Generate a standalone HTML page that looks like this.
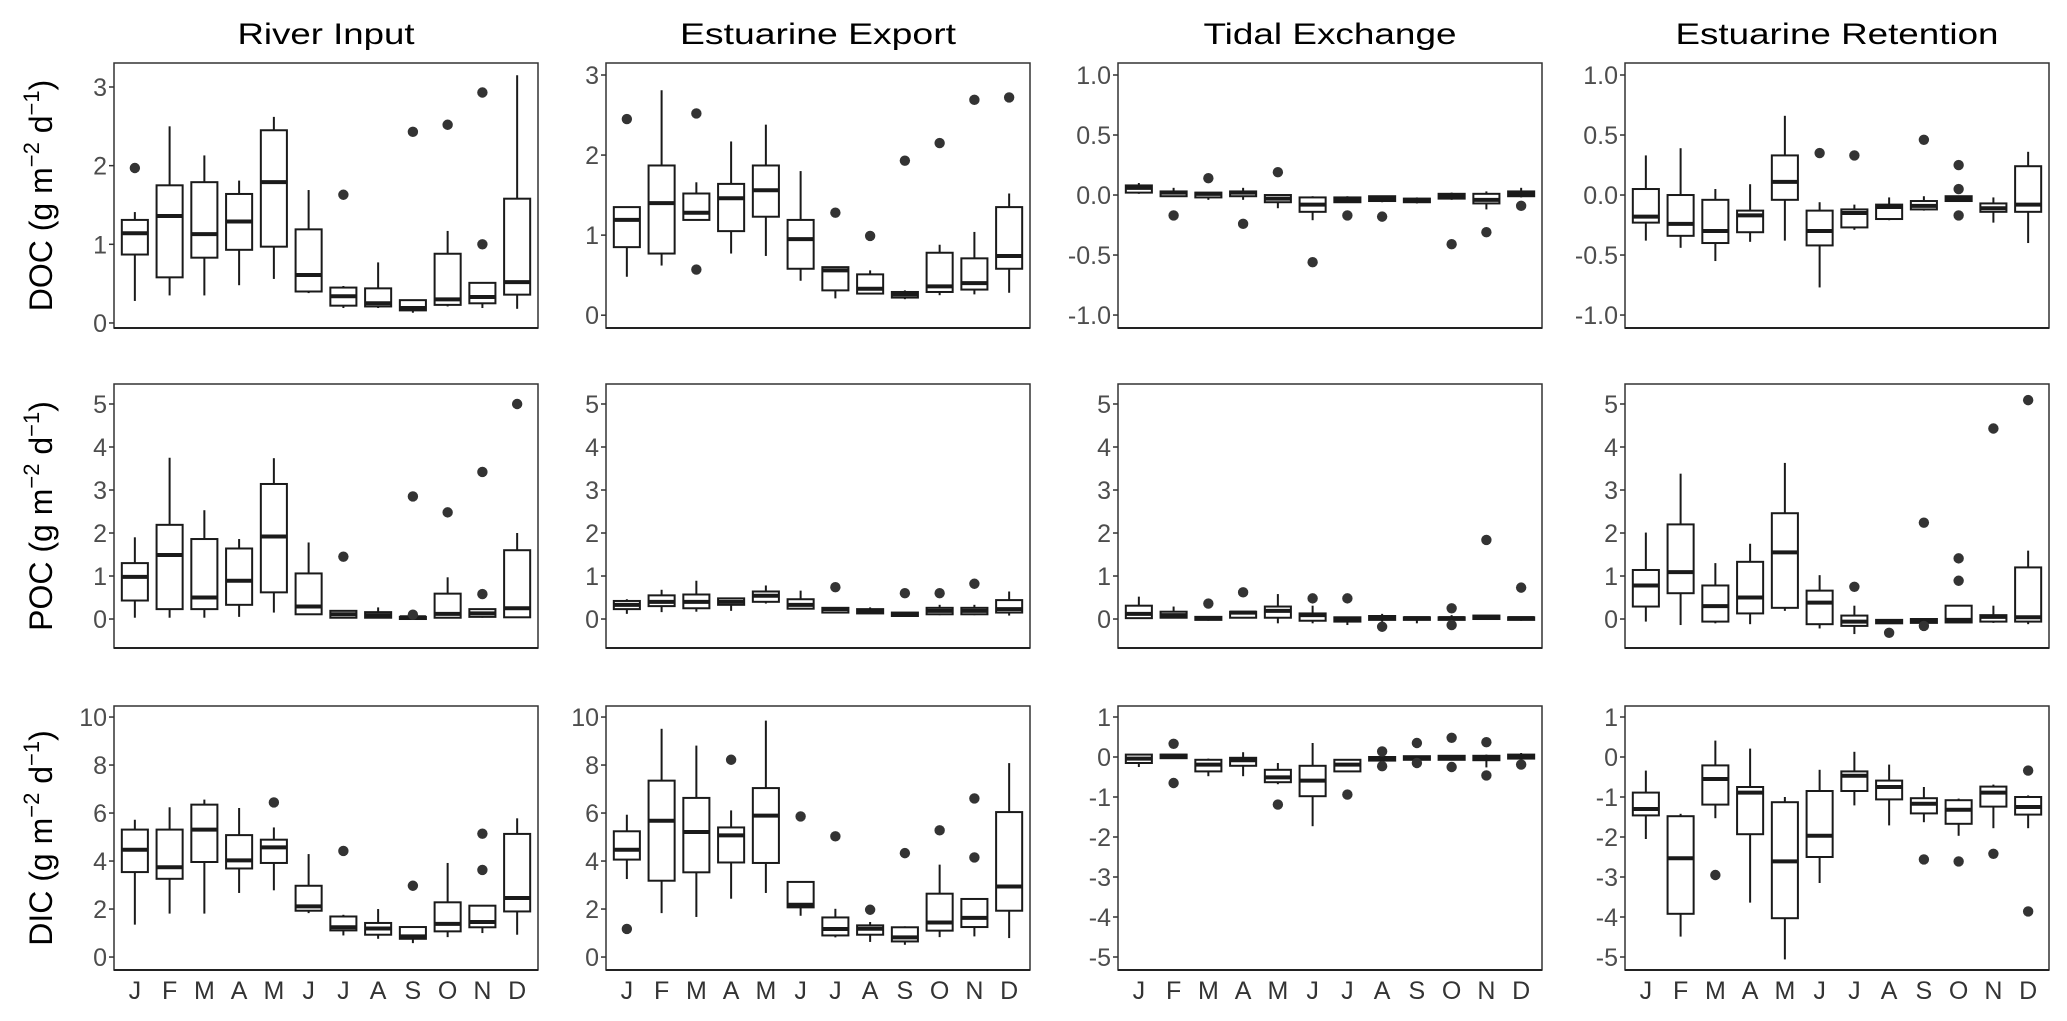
<!DOCTYPE html>
<html><head><meta charset="utf-8">
<style>
html,body{margin:0;padding:0;background:#fff;}
svg{display:block;font-family:"Liberation Sans",Arial,sans-serif;}
</style></head>
<body>
<svg id="chart" width="2067" height="1021" viewBox="0 0 2067 1021" xmlns="http://www.w3.org/2000/svg"></svg>
<script>
const months = ["J","F","M","A","M","J","J","A","S","O","N","D"];
const colTitles = ["River Input","Estuarine Export","Tidal Exchange","Estuarine Retention"];
const rowTitles = ["DOC","POC","DIC"];

// ---- DOC River Input ----
const docRiverLo  = [0.28,0.35,0.35,0.48,0.56,0.38,0.19,0.19,0.13,0.21,0.19,0.18];
const docRiverQ1  = [0.87,0.58,0.83,0.93,0.97,0.40,0.22,0.21,0.16,0.23,0.25,0.36];
const docRiverMed = [1.14,1.36,1.13,1.29,1.79,0.61,0.34,0.25,0.19,0.30,0.33,0.52];
const docRiverQ3  = [1.31,1.75,1.79,1.64,2.45,1.19,0.45,0.44,0.29,0.88,0.51,1.58];
const docRiverHi  = [1.41,2.50,2.13,1.81,2.62,1.69,0.47,0.77,0.29,1.17,0.51,3.15];
const docRiverOut = [[0,1.97],[6,1.63],[8,2.43],[9,2.52],[10,2.93],[10,1.0]];
// ---- DOC Estuarine Export ----
const docExportLo  = [0.48,0.62,1.19,0.77,0.74,0.43,0.21,0.27,0.20,0.25,0.26,0.28];
const docExportQ1  = [0.85,0.77,1.19,1.05,1.23,0.58,0.31,0.27,0.22,0.29,0.32,0.58];
const docExportMed = [1.19,1.40,1.28,1.46,1.56,0.95,0.56,0.33,0.26,0.36,0.40,0.74];
const docExportQ3  = [1.35,1.87,1.52,1.64,1.87,1.19,0.60,0.51,0.29,0.78,0.71,1.35];
const docExportHi  = [1.35,2.81,1.66,2.17,2.38,1.80,0.60,0.56,0.31,0.88,1.04,1.52];
const docExportOut = [[0,2.45],[2,2.52],[2,0.57],[6,1.28],[7,0.99],[8,1.93],[9,2.15],[10,2.69],[11,2.72]];
// ---- DOC Tidal Exchange ----
const docTidalLo  = [0.01,-0.01,-0.04,-0.04,-0.11,-0.21,-0.06,-0.06,-0.07,-0.04,-0.12,-0.02];
const docTidalQ1  = [0.02,-0.01,-0.02,-0.01,-0.06,-0.14,-0.06,-0.05,-0.06,-0.03,-0.07,-0.01];
const docTidalMed = [0.06,0.02,0.01,0.02,-0.03,-0.08,-0.04,-0.03,-0.04,-0.01,-0.04,0.01];
const docTidalQ3  = [0.08,0.03,0.02,0.03,0.00,-0.02,-0.02,-0.01,-0.03,0.01,0.01,0.03];
const docTidalHi  = [0.10,0.06,0.02,0.06,0.00,-0.01,-0.01,-0.01,-0.02,0.02,0.03,0.06];
const docTidalOut = [[1,-0.17],[2,0.14],[3,-0.24],[4,0.19],[5,-0.56],[6,-0.17],[7,-0.18],[9,-0.41],[10,-0.31],[11,-0.09]];
// ---- DOC Estuarine Retention ----
const docRetLo  = [-0.38,-0.44,-0.55,-0.39,-0.38,-0.77,-0.29,-0.21,-0.13,-0.05,-0.23,-0.40];
const docRetQ1  = [-0.23,-0.34,-0.40,-0.31,-0.04,-0.42,-0.27,-0.20,-0.12,-0.05,-0.14,-0.14];
const docRetMed = [-0.18,-0.24,-0.30,-0.17,0.11,-0.30,-0.15,-0.10,-0.09,-0.03,-0.11,-0.08];
const docRetQ3  = [0.05,0.00,-0.04,-0.13,0.33,-0.13,-0.12,-0.08,-0.05,-0.01,-0.07,0.24];
const docRetHi  = [0.33,0.39,0.05,0.09,0.66,-0.06,-0.08,-0.02,-0.01,-0.01,-0.02,0.36];
const docRetOut = [[5,0.35],[6,0.33],[8,0.46],[9,0.25],[9,0.05],[9,-0.17]];

// ---- POC River Input ----
const pocRiverLo  = [0.03,0.03,0.03,0.05,0.15,0.11,0.03,0.03,-0.02,0.02,0.03,0.04];
const pocRiverQ1  = [0.43,0.23,0.23,0.33,0.62,0.11,0.03,0.03,0.00,0.03,0.05,0.04];
const pocRiverMed = [0.98,1.49,0.50,0.89,1.92,0.29,0.11,0.09,0.04,0.12,0.13,0.25];
const pocRiverQ3  = [1.30,2.19,1.86,1.64,3.14,1.06,0.19,0.16,0.05,0.59,0.23,1.60];
const pocRiverHi  = [1.90,3.75,2.53,1.86,3.74,1.78,0.19,0.27,0.05,0.97,0.23,2.00];
const pocRiverOut = [[6,1.45],[8,2.85],[8,0.1],[9,2.48],[10,3.42],[10,0.58],[11,5.0]];
// ---- POC Estuarine Export ----
const pocExportLo  = [0.12,0.16,0.17,0.19,0.36,0.23,0.13,0.12,0.05,0.09,0.09,0.08];
const pocExportQ1  = [0.23,0.30,0.25,0.33,0.40,0.24,0.15,0.13,0.07,0.11,0.11,0.15];
const pocExportMed = [0.33,0.40,0.40,0.40,0.54,0.33,0.23,0.17,0.11,0.19,0.19,0.23];
const pocExportQ3  = [0.42,0.55,0.57,0.48,0.64,0.46,0.26,0.23,0.15,0.26,0.26,0.44];
const pocExportHi  = [0.46,0.68,0.89,0.50,0.78,0.66,0.26,0.27,0.15,0.33,0.33,0.64];
const pocExportOut = [[6,0.74],[8,0.6],[9,0.6],[10,0.82]];
// ---- POC Tidal Exchange ----
const pocTidalLo  = [0.00,0.02,-0.04,0.02,-0.10,-0.10,-0.14,-0.06,-0.10,-0.04,0.00,-0.04];
const pocTidalQ1  = [0.02,0.03,-0.02,0.03,0.03,-0.04,-0.06,-0.02,-0.02,-0.02,0.00,-0.02];
const pocTidalMed = [0.12,0.09,0.02,0.15,0.19,0.09,-0.01,0.03,0.02,0.02,0.05,0.02];
const pocTidalQ3  = [0.31,0.17,0.05,0.17,0.29,0.13,0.04,0.07,0.04,0.04,0.08,0.04];
const pocTidalHi  = [0.52,0.29,0.05,0.17,0.58,0.31,0.04,0.12,0.04,0.09,0.08,0.04];
const pocTidalOut = [[2,0.36],[3,0.62],[5,0.48],[6,0.48],[7,-0.18],[9,0.25],[9,-0.14],[10,1.84],[11,0.73]];
// ---- POC Estuarine Retention ----
const pocRetLo  = [-0.06,-0.14,-0.10,-0.12,0.19,-0.22,-0.35,-0.10,-0.10,-0.09,-0.09,-0.12];
const pocRetQ1  = [0.29,0.60,-0.06,0.13,0.26,-0.12,-0.16,-0.10,-0.09,-0.08,-0.06,-0.06];
const pocRetMed = [0.78,1.09,0.30,0.50,1.55,0.38,-0.06,-0.06,-0.04,-0.02,0.05,0.04];
const pocRetQ3  = [1.14,2.20,0.78,1.33,2.46,0.66,0.08,-0.02,0.00,0.31,0.09,1.20];
const pocRetHi  = [2.01,3.38,1.30,1.75,3.63,1.02,0.31,-0.02,0.00,0.31,0.31,1.59];
const pocRetOut = [[6,0.75],[7,-0.32],[8,2.24],[8,-0.16],[9,1.41],[9,0.89],[10,4.43],[11,5.09]];

// ---- DIC River Input ----
const dicRiverLo  = [1.35,1.81,1.81,2.67,2.78,1.83,0.90,0.76,0.58,0.83,1.00,0.93];
const dicRiverQ1  = [3.54,3.26,3.96,3.69,3.92,1.93,1.11,0.93,0.76,1.07,1.24,1.90];
const dicRiverMed = [4.47,3.74,5.31,4.03,4.57,2.11,1.24,1.19,0.86,1.38,1.46,2.46];
const dicRiverQ3  = [5.31,5.31,6.35,5.08,4.89,2.97,1.69,1.42,1.25,2.28,2.14,5.13];
const dicRiverHi  = [5.72,6.24,6.56,6.21,5.40,4.29,1.76,2.00,1.25,3.92,2.14,5.78];
const dicRiverOut = [[4,6.44],[6,4.42],[8,2.97],[10,5.14],[10,3.63]];
// ---- DIC Estuarine Export ----
const dicExportLo  = [3.25,1.83,1.67,2.43,2.67,1.72,0.82,0.63,0.51,0.83,0.86,0.79];
const dicExportQ1  = [4.06,3.18,3.53,3.94,3.92,2.07,0.90,0.93,0.65,1.10,1.25,1.93];
const dicExportMed = [4.47,5.68,5.21,5.07,5.89,2.18,1.17,1.18,0.82,1.44,1.63,2.94];
const dicExportQ3  = [5.24,7.35,6.63,5.40,7.04,3.13,1.65,1.32,1.24,2.64,2.42,6.04];
const dicExportHi  = [5.93,9.51,8.81,6.11,9.85,3.13,2.01,1.46,1.28,3.85,2.42,8.08];
const dicExportOut = [[0,1.17],[3,8.22],[5,5.86],[6,5.03],[7,1.97],[8,4.33],[9,5.28],[10,6.61],[10,4.15]];
// ---- DIC Tidal Exchange ----
const dicTidalLo  = [-0.25,-0.03,-0.48,-0.48,-0.68,-1.73,-0.36,-0.11,-0.07,-0.07,-0.26,-0.04];
const dicTidalQ1  = [-0.15,-0.03,-0.36,-0.22,-0.63,-0.98,-0.36,-0.09,-0.07,-0.07,-0.08,-0.04];
const dicTidalMed = [-0.04,0.03,-0.19,-0.08,-0.51,-0.59,-0.19,-0.04,-0.03,-0.01,-0.03,0.02];
const dicTidalQ3  = [0.06,0.06,-0.07,-0.02,-0.32,-0.22,-0.07,0.00,0.02,0.03,0.03,0.06];
const dicTidalHi  = [0.06,0.06,-0.04,0.12,-0.15,0.35,-0.07,0.02,0.03,0.03,0.06,0.10];
const dicTidalOut = [[1,0.33],[1,-0.65],[4,-1.19],[6,-0.94],[7,0.14],[7,-0.23],[8,0.35],[8,-0.15],[9,0.48],[9,-0.25],[10,0.37],[10,-0.46],[11,-0.19]];
// ---- DIC Estuarine Retention ----
const dicRetLo  = [-2.05,-4.49,-1.53,-3.64,-5.06,-3.15,-1.21,-1.71,-1.63,-1.97,-1.78,-1.78];
const dicRetQ1  = [-1.46,-3.92,-1.19,-1.93,-4.03,-2.50,-0.85,-1.06,-1.41,-1.67,-1.24,-1.44];
const dicRetMed = [-1.30,-2.53,-0.55,-0.89,-2.61,-1.97,-0.47,-0.75,-1.17,-1.32,-0.89,-1.25];
const dicRetQ3  = [-0.89,-1.48,-0.21,-0.75,-1.13,-0.85,-0.36,-0.59,-1.03,-1.08,-0.74,-1.00];
const dicRetHi  = [-0.34,-1.42,0.41,0.21,-1.00,-0.32,0.13,-0.19,-0.75,-1.04,-0.69,-0.96];
const dicRetOut = [[2,-2.95],[8,-2.56],[9,-2.61],[10,-2.42],[11,-0.34],[11,-3.86]];

// ---- Axis tick values ----
const ticksDocFlux = [0,1,2,3];
const ticksDocExport = [0,1,2,3];
const ticksDocNet = [-1.0,-0.5,0.0,0.5,1.0];
const ticksPoc = [0,1,2,3,4,5];
const ticksDicFlux = [0,2,4,6,8,10];
const ticksDicNet = [-5,-4,-3,-2,-1,0,1];

const NS = "http://www.w3.org/2000/svg";
const svg = document.getElementById("chart");
function mk(tag, attrs, parent){
  const e = document.createElementNS(NS, tag);
  for (const k in attrs) e.setAttribute(k, attrs[k]);
  (parent||svg).appendChild(e);
  return e;
}

const colX = [114, 606, 1118, 1625];
const PW = 424;
const rowY = [[63,328],[384,648],[706,970]];
const titleLen = [177, 276, 253, 323];

const panels = [
  {r:0,c:0,lo:docRiverLo,q1:docRiverQ1,md:docRiverMed,q3:docRiverQ3,hi:docRiverHi,out:docRiverOut,dom:[3.305,-0.064],ticks:ticksDocFlux,dec:0,name:"doc-river-input"},
  {r:0,c:1,lo:docExportLo,q1:docExportQ1,md:docExportMed,q3:docExportQ3,hi:docExportHi,out:docExportOut,dom:[3.15,-0.16],ticks:ticksDocExport,dec:0,name:"doc-estuarine-export"},
  {r:0,c:2,lo:docTidalLo,q1:docTidalQ1,md:docTidalMed,q3:docTidalQ3,hi:docTidalHi,out:docTidalOut,dom:[1.1,-1.108],ticks:ticksDocNet,dec:1,name:"doc-tidal-exchange"},
  {r:0,c:3,lo:docRetLo,q1:docRetQ1,md:docRetMed,q3:docRetQ3,hi:docRetHi,out:docRetOut,dom:[1.1,-1.108],ticks:ticksDocNet,dec:1,name:"doc-estuarine-retention"},
  {r:1,c:0,lo:pocRiverLo,q1:pocRiverQ1,md:pocRiverMed,q3:pocRiverQ3,hi:pocRiverHi,out:pocRiverOut,dom:[5.465,-0.674],ticks:ticksPoc,dec:0,name:"poc-river-input"},
  {r:1,c:1,lo:pocExportLo,q1:pocExportQ1,md:pocExportMed,q3:pocExportQ3,hi:pocExportHi,out:pocExportOut,dom:[5.465,-0.674],ticks:ticksPoc,dec:0,name:"poc-estuarine-export"},
  {r:1,c:2,lo:pocTidalLo,q1:pocTidalQ1,md:pocTidalMed,q3:pocTidalQ3,hi:pocTidalHi,out:pocTidalOut,dom:[5.465,-0.674],ticks:ticksPoc,dec:0,name:"poc-tidal-exchange"},
  {r:1,c:3,lo:pocRetLo,q1:pocRetQ1,md:pocRetMed,q3:pocRetQ3,hi:pocRetHi,out:pocRetOut,dom:[5.465,-0.674],ticks:ticksPoc,dec:0,name:"poc-estuarine-retention"},
  {r:2,c:0,lo:dicRiverLo,q1:dicRiverQ1,md:dicRiverMed,q3:dicRiverQ3,hi:dicRiverHi,out:dicRiverOut,dom:[10.46,-0.54],ticks:ticksDicFlux,dec:0,name:"dic-river-input"},
  {r:2,c:1,lo:dicExportLo,q1:dicExportQ1,md:dicExportMed,q3:dicExportQ3,hi:dicExportHi,out:dicExportOut,dom:[10.46,-0.54],ticks:ticksDicFlux,dec:0,name:"dic-estuarine-export"},
  {r:2,c:2,lo:dicTidalLo,q1:dicTidalQ1,md:dicTidalMed,q3:dicTidalQ3,hi:dicTidalHi,out:dicTidalOut,dom:[1.275,-5.325],ticks:ticksDicNet,dec:0,name:"dic-tidal-exchange"},
  {r:2,c:3,lo:dicRetLo,q1:dicRetQ1,md:dicRetMed,q3:dicRetQ3,hi:dicRetHi,out:dicRetOut,dom:[1.275,-5.325],ticks:ticksDicNet,dec:0,name:"dic-estuarine-retention"}
];

colTitles.forEach((t,i)=>{
  const e = mk("text",{x:colX[i]+PW/2,y:44,"text-anchor":"middle","font-size":30,fill:"#000",textLength:titleLen[i],lengthAdjust:"spacingAndGlyphs"});
  e.textContent = t;
  
  
});

rowTitles.forEach((t,i)=>{
  const cy = (rowY[i][0]+rowY[i][1])/2;
  const e = mk("text",{x:0,y:0,"text-anchor":"middle","font-size":32,fill:"#000",transform:`translate(52,${cy}) rotate(-90)`});
  
  
  e.appendChild(document.createTextNode(t + " (g m"));
  const s1 = mk("tspan",{dy:-13,"font-size":22},e); s1.textContent = "\u22122";
  const s2 = mk("tspan",{dy:13},e); s2.textContent = " d";
  const s3 = mk("tspan",{dy:-13,"font-size":22},e); s3.textContent = "\u22121";
  const s4 = mk("tspan",{dy:13},e); s4.textContent = ")";
});

panels.forEach(p=>{
  const x0 = colX[p.c], [top,bot] = rowY[p.r];
  const g = mk("g",{});
  
  
  const yS = v => top + (p.dom[0]-v)/(p.dom[0]-p.dom[1])*(bot-top);
  const xS = i => x0 + (i+0.6)/12.2*PW;
  const bw = 0.75*PW/12.2;

  const frame = mk("rect",{x:x0,y:top,width:PW,height:bot-top,fill:"#fff",stroke:"#333","stroke-width":1.5},g);
  
  
  mk("line",{x1:x0,x2:x0+PW,y1:bot,y2:bot,stroke:"#222","stroke-width":2},g);

  p.ticks.forEach(t=>{
    const y = yS(t);
    mk("line",{x1:x0-5,x2:x0,y1:y,y2:y,stroke:"#333","stroke-width":1.5},g);
    const lab = mk("text",{x:x0-7,y:y+9,"text-anchor":"end","font-size":25,fill:"#4d4d4d"},g);
    lab.textContent = (t<0?"-":"") + Math.abs(t).toFixed(p.dec);
    
    
  });

  for (let i=0;i<12;i++){
    const cx = xS(i);
    const bg = mk("g",{},g);
    
    
    mk("line",{x1:cx,x2:cx,y1:yS(p.hi[i]),y2:yS(p.q3[i]),stroke:"#1a1a1a","stroke-width":2},bg);
    mk("line",{x1:cx,x2:cx,y1:yS(p.q1[i]),y2:yS(p.lo[i]),stroke:"#1a1a1a","stroke-width":2},bg);
    const y3 = yS(p.q3[i]), y1 = yS(p.q1[i]);
    mk("rect",{x:cx-bw/2,y:y3,width:bw,height:Math.max(0.5,y1-y3),fill:"#fff",stroke:"#1a1a1a","stroke-width":2},bg);
    mk("line",{x1:cx-bw/2,x2:cx+bw/2,y1:yS(p.md[i]),y2:yS(p.md[i]),stroke:"#1a1a1a","stroke-width":4},bg);
  }
  p.out.forEach(o=>{
    const c = mk("circle",{cx:xS(o[0]),cy:yS(o[1]),r:5.2,fill:"#333"},g);
    
    
  });

  if (p.r===2){
    months.forEach((m,i)=>{
      const t = mk("text",{x:xS(i),y:999,"text-anchor":"middle","font-size":25,fill:"#333"},g);
      t.textContent = m;
      
      
    });
  }
});
</script>
</body></html>
